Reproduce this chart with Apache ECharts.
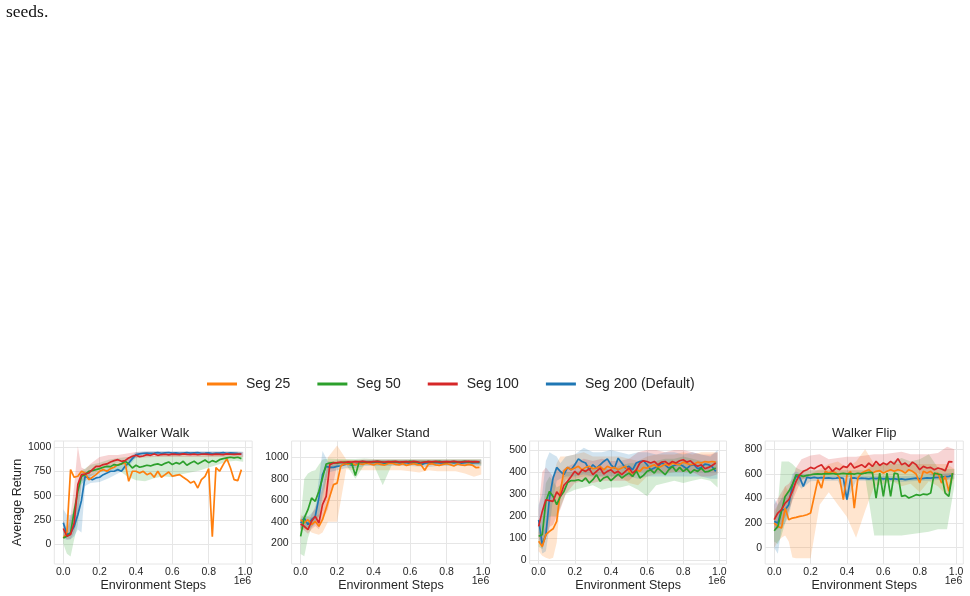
<!DOCTYPE html>
<html>
<head>
<meta charset="utf-8">
<title>Walker tasks - segment length</title>
<script src="https://cdn.jsdelivr.net/npm/echarts@6/dist/echarts.min.js"></script>
<style>
  html, body { margin: 0; padding: 0; background: #fff; }
  #chart { width: 970px; height: 596px; }
</style>
</head>
<body>
<div id="chart"></div>
<script>
// environment steps (x 1e6) for the mean curves and for the seed bands
var steps = [0, 0.02, 0.04, 0.06, 0.08, 0.10, 0.12, 0.14, 0.16, 0.18,
  0.20, 0.22, 0.24, 0.26, 0.28, 0.30, 0.32, 0.34, 0.36, 0.38,
  0.40, 0.42, 0.44, 0.46, 0.48, 0.50, 0.52, 0.54, 0.56, 0.58,
  0.60, 0.62, 0.64, 0.66, 0.68, 0.70, 0.72, 0.74, 0.76, 0.78,
  0.80, 0.82, 0.84, 0.86, 0.88, 0.90, 0.92, 0.94, 0.96, 0.98];
var bandSteps = [0, 0.02, 0.04, 0.06, 0.08, 0.10, 0.12, 0.15, 0.20, 0.25, 0.30, 0.35,
  0.40, 0.45, 0.50, 0.55, 0.60, 0.65, 0.70, 0.75, 0.80, 0.85, 0.90, 0.95, 0.99];

var seriesNames = ['Seg 25', 'Seg 50', 'Seg 100', 'Seg 200 (Default)'];
var seriesColors = ['#ff7f0e', '#2ca02c', '#d62728', '#1f77b4'];
var xTicks = [0, 0.2, 0.4, 0.6, 0.8, 1.0];

// Walker Walk
var walkSeg25 = [62, 120, 769, 690, 700, 752, 734, 665, 690, 717, 752, 769, 752, 779, 793, 821, 828, 838, 648, 752,
  752, 734, 752, 717, 734, 690, 752, 690, 717, 745, 700, 710, 717, 690, 665, 631, 648, 579, 665, 700,
  780, 75, 790, 752, 821, 883, 786, 665, 655, 769];
var walkSeg50 = [62, 79, 114, 338, 545, 700, 717, 752, 759, 769, 779, 793, 803, 800, 821, 814, 828, 855, 828, 786,
  814, 793, 803, 814, 807, 821, 828, 814, 834, 848, 821, 841, 828, 855, 814, 838, 855, 828, 848, 869,
  841, 862, 848, 872, 883, 890, 897, 890, 897, 883];
var walkSeg100 = [160, 79, 97, 217, 614, 717, 724, 734, 769, 803, 803, 821, 828, 848, 862, 872, 855, 862, 890, 907,
  917, 903, 910, 924, 917, 931, 917, 925, 928, 922, 930, 926, 924, 931, 927, 925, 929, 923, 928, 930,
  926, 924, 929, 927, 925, 931, 928, 926, 930, 929];
var walkSeg200 = [220, 97, 114, 183, 303, 450, 700, 683, 665, 683, 690, 717, 734, 752, 752, 769, 752, 803, 838, 883,
  924, 931, 938, 941, 938, 940, 944, 938, 942, 946, 940, 943, 937, 941, 945, 939, 942, 944, 938, 940,
  943, 936, 941, 939, 944, 938, 942, 940, 937, 935];
var walkSeg50Lo = [0, -100, -130, 50, 200, 620, 650, 700, 740, 760, 770, 700, 660, 650, 680, 700, 690, 720, 740, 760, 790, 820, 850, 860, 850];
var walkSeg50Hi = [150, 150, 250, 400, 650, 760, 780, 820, 840, 870, 890, 900, 900, 920, 910, 920, 930, 920, 910, 920, 925, 925, 925, 925, 915];
var walkSeg100Lo = [80, 50, 50, 120, 300, 640, 680, 700, 760, 790, 840, 850, 890, 895, 900, 900, 900, 900, 900, 900, 900, 900, 900, 900, 900];
var walkSeg100Hi = [250, 160, 300, 600, 1010, 790, 770, 830, 900, 920, 920, 935, 950, 955, 955, 955, 955, 955, 955, 955, 955, 955, 955, 955, 950];
var walkSeg200Lo = [60, 40, 50, 80, 150, 120, 600, 630, 640, 680, 730, 780, 895, 915, 920, 920, 920, 920, 920, 920, 920, 920, 920, 920, 915];
var walkSeg200Hi = [360, 300, 300, 320, 480, 720, 750, 720, 740, 790, 820, 880, 950, 958, 962, 962, 960, 960, 960, 958, 960, 960, 958, 958, 955];

// Walker Stand
var standSeg25 = [420, 389, 420, 374, 405, 358, 420, 529, 637, 746, 760, 920, 940, 935, 945, 930, 940, 935, 945, 938,
  930, 942, 935, 928, 940, 945, 935, 930, 940, 925, 935, 940, 930, 930, 880, 935, 940, 930, 925, 935,
  940, 932, 920, 938, 930, 925, 935, 928, 905, 907];
var standSeg50 = [265, 436, 513, 622, 591, 684, 808, 938, 947, 950, 945, 952, 955, 950, 945, 830, 955, 960, 952, 958,
  955, 962, 957, 950, 955, 960, 958, 952, 957, 955, 962, 958, 953, 950, 956, 960, 955, 958, 962, 956,
  953, 958, 960, 955, 958, 962, 956, 960, 958, 955];
var standSeg100 = [380, 358, 327, 405, 451, 389, 560, 637, 932, 947, 950, 955, 952, 958, 955, 960, 957, 962, 958, 955,
  960, 963, 958, 955, 960, 957, 962, 955, 958, 960, 956, 962, 958, 950, 955, 960, 958, 962, 955, 958,
  960, 957, 962, 958, 955, 960, 963, 958, 960, 958];
var standSeg200 = [389, 436, 374, 420, 451, 622, 839, 916, 907, 907, 916, 922, 932, 938, 926, 932, 945, 950, 955, 948,
  952, 957, 950, 945, 953, 948, 955, 950, 946, 952, 940, 948, 954, 930, 945, 950, 947, 953, 949, 945,
  951, 955, 948, 952, 946, 950, 954, 948, 951, 950];
var standSeg25Lo = [340, 330, 330, 300, 290, 280, 300, 400, 400, 890, 880, 880, 880, 880, 880, 880, 870, 860, 880, 870, 870, 870, 850, 820, 840];
var standSeg25Hi = [460, 450, 450, 440, 450, 470, 600, 1000, 1110, 980, 975, 975, 975, 975, 975, 975, 975, 975, 975, 975, 975, 975, 975, 975, 960];
var standSeg50Lo = [100, 80, 250, 350, 400, 450, 600, 880, 920, 930, 800, 930, 930, 740, 930, 930, 930, 930, 930, 930, 930, 930, 930, 930, 930];
var standSeg50Hi = [420, 800, 850, 870, 880, 930, 980, 990, 985, 985, 985, 990, 985, 985, 985, 985, 985, 985, 985, 985, 985, 985, 985, 985, 985];
var standSeg100Lo = [340, 320, 290, 330, 360, 330, 420, 520, 930, 935, 940, 940, 940, 940, 940, 940, 940, 935, 935, 940, 940, 940, 940, 940, 940];
var standSeg100Hi = [420, 400, 380, 470, 540, 600, 720, 960, 970, 975, 975, 980, 980, 980, 980, 980, 980, 980, 980, 980, 980, 980, 980, 980, 980];
var standSeg200Lo = [330, 350, 330, 350, 380, 450, 650, 860, 880, 900, 900, 920, 920, 920, 920, 920, 920, 915, 910, 920, 920, 920, 920, 920, 920];
var standSeg200Hi = [430, 470, 450, 480, 520, 800, 1060, 960, 950, 960, 970, 975, 975, 975, 975, 975, 975, 975, 975, 975, 975, 975, 975, 975, 975];

// Walker Run
var runSeg25 = [85, 62, 115, 130, 142, 176, 312, 405, 421, 410, 418, 426, 410, 421, 426, 415, 418, 426, 410, 426,
  418, 421, 410, 418, 426, 403, 380, 410, 403, 421, 418, 426, 433, 421, 426, 436, 430, 441, 436, 433,
  445, 439, 433, 436, 445, 441, 448, 445, 448, 445];
var runSeg50 = [108, 115, 267, 312, 289, 252, 289, 312, 352, 361, 361, 365, 358, 373, 350, 365, 388, 358, 373, 380,
  361, 376, 391, 373, 385, 395, 380, 406, 373, 385, 403, 410, 395, 418, 403, 388, 410, 426, 403, 421,
  403, 415, 395, 410, 403, 418, 400, 403, 410, 418];
var runSeg100 = [153, 221, 274, 270, 267, 310, 290, 340, 358, 380, 403, 388, 410, 403, 415, 388, 403, 418, 391, 403,
  410, 395, 403, 388, 403, 418, 395, 410, 441, 451, 448, 441, 448, 433, 445, 448, 436, 448, 441, 451,
  456, 445, 451, 436, 426, 433, 415, 421, 430, 441];
var runSeg200 = [183, 70, 115, 282, 373, 421, 403, 388, 421, 410, 433, 460, 448, 441, 410, 433, 418, 433, 448, 460,
  433, 418, 463, 441, 418, 426, 410, 441, 448, 451, 433, 410, 418, 426, 441, 433, 418, 426, 433, 436,
  426, 415, 430, 433, 415, 421, 436, 433, 424, 403];
var runSeg25Lo = [40, 20, 10, 5, 10, 80, 280, 370, 370, 380, 380, 380, 380, 380, 350, 340, 380, 390, 390, 400, 400, 400, 400, 400, 400];
var runSeg25Hi = [130, 120, 150, 250, 380, 440, 470, 470, 480, 490, 470, 470, 470, 470, 460, 450, 470, 480, 480, 480, 490, 480, 490, 490, 490];
var runSeg50Lo = [60, 50, 100, 200, 200, 200, 240, 300, 320, 330, 340, 320, 330, 330, 340, 320, 290, 340, 350, 360, 350, 360, 370, 360, 330];
var runSeg50Hi = [150, 200, 350, 380, 360, 330, 340, 400, 400, 410, 420, 420, 410, 430, 440, 440, 440, 450, 460, 460, 470, 460, 450, 440, 450];
var runSeg100Lo = [100, 50, 100, 150, 160, 200, 230, 300, 350, 360, 350, 360, 360, 360, 360, 400, 400, 400, 400, 400, 400, 400, 380, 380, 390];
var runSeg100Hi = [230, 400, 420, 400, 380, 420, 400, 420, 440, 460, 450, 460, 450, 450, 460, 490, 500, 500, 490, 500, 500, 490, 480, 480, 490];
var runSeg200Lo = [120, 30, 40, 150, 280, 360, 370, 380, 380, 390, 380, 380, 380, 380, 380, 370, 380, 380, 380, 380, 380, 380, 380, 370, 370];
var runSeg200Hi = [250, 300, 450, 490, 480, 470, 440, 470, 480, 510, 490, 490, 500, 490, 480, 490, 490, 480, 490, 490, 480, 490, 480, 470, 500];

// Walker Flip
var flipSeg25 = [200, 173, 160, 322, 228, 241, 247, 255, 260, 268, 282, 417, 553, 485, 621, 607, 621, 607, 566, 390,
  593, 621, 322, 566, 607, 621, 634, 607, 621, 626, 607, 621, 634, 621, 634, 626, 607, 634, 621, 599,
  526, 621, 607, 621, 593, 607, 526, 580, 458, 607];
var flipSeg50 = [138, 173, 295, 417, 458, 512, 593, 588, 580, 588, 593, 599, 600, 598, 602, 600, 603, 598, 600, 604,
  600, 602, 598, 605, 600, 607, 612, 610, 404, 607, 417, 607, 417, 607, 599, 417, 425, 404, 417, 431,
  425, 436, 431, 444, 607, 599, 593, 444, 417, 607];
var flipSeg100 = [228, 282, 309, 363, 390, 458, 539, 593, 621, 634, 653, 642, 661, 675, 634, 661, 621, 648, 634, 661,
  653, 688, 648, 661, 675, 653, 688, 661, 702, 669, 688, 675, 702, 680, 724, 675, 688, 661, 696, 675,
  634, 661, 648, 653, 634, 648, 640, 625, 700, 698];
var flipSeg200 = [214, 200, 309, 309, 350, 512, 580, 572, 499, 572, 566, 572, 566, 570, 565, 568, 563, 566, 570, 564,
  390, 566, 568, 562, 566, 564, 560, 566, 562, 565, 560, 563, 558, 562, 555, 560, 553, 558, 562, 566,
  560, 563, 568, 566, 570, 572, 575, 578, 580, 588];
var flipSeg25Lo = [0, 50, 80, 100, 50, -80, -85, -85, -85, 350, 450, 350, 250, 80, 300, 500, 520, 540, 500, 520, 450, 540, 500, 420, 560];
var flipSeg25Hi = [300, 350, 400, 500, 450, 550, 560, 580, 600, 640, 680, 700, 650, 700, 800, 680, 680, 680, 680, 680, 680, 680, 680, 680, 640];
var flipSeg50Lo = [50, 30, 100, 200, 300, 400, 500, 560, 570, 575, 575, 575, 575, 575, 575, 100, 100, 100, 100, 110, 120, 130, 150, 150, 500];
var flipSeg50Hi = [250, 350, 700, 700, 700, 680, 650, 630, 630, 630, 630, 630, 630, 630, 630, 680, 680, 700, 730, 700, 720, 760, 650, 640, 640];
var flipSeg100Lo = [150, 150, 200, 250, 300, 380, 450, 550, 580, 600, 600, 600, 600, 600, 600, 620, 620, 620, 620, 620, 600, 600, 560, 550, 600];
var flipSeg100Hi = [350, 400, 450, 500, 520, 560, 650, 720, 750, 760, 720, 730, 740, 740, 750, 760, 760, 770, 780, 760, 760, 760, 770, 820, 800];
var flipSeg200Lo = [0, -50, 150, 200, 250, 400, 530, 480, 540, 545, 545, 545, 380, 545, 545, 545, 540, 540, 535, 540, 545, 545, 550, 550, 560];
var flipSeg200Hi = [400, 350, 400, 420, 460, 600, 620, 600, 590, 590, 590, 590, 590, 590, 585, 585, 585, 580, 580, 585, 590, 595, 600, 605, 610];

var FONT = '"Liberation Sans", Arial, sans-serif';
var INK = '#262626';
var GRID_LINE = '#e6e6e6';

var panels = [
  { title: 'Walker Walk', left: 54.3, width: 197.9, yMin: -207, yMax: 1065, yTicks: [0, 250, 500, 750, 1000],
    lines: [walkSeg25, walkSeg50, walkSeg100, walkSeg200],
    lo: [null, walkSeg50Lo, walkSeg100Lo, walkSeg200Lo], hi: [null, walkSeg50Hi, walkSeg100Hi, walkSeg200Hi] },
  { title: 'Walker Stand', left: 291.6, width: 198.7, yMin: 7.4, yMax: 1152, yTicks: [200, 400, 600, 800, 1000],
    lines: [standSeg25, standSeg50, standSeg100, standSeg200],
    lo: [standSeg25Lo, standSeg50Lo, standSeg100Lo, standSeg200Lo], hi: [standSeg25Hi, standSeg50Hi, standSeg100Hi, standSeg200Hi] },
  { title: 'Walker Run', left: 529.7, width: 196.8, yMin: -18, yMax: 541, yTicks: [0, 100, 200, 300, 400, 500],
    lines: [runSeg25, runSeg50, runSeg100, runSeg200],
    lo: [runSeg25Lo, runSeg50Lo, runSeg100Lo, runSeg200Lo], hi: [runSeg25Hi, runSeg50Hi, runSeg100Hi, runSeg200Hi] },
  { title: 'Walker Flip', left: 765.2, width: 198.1, yMin: -132.5, yMax: 867.5, yTicks: [0, 200, 400, 600, 800],
    lines: [flipSeg25, flipSeg50, flipSeg100, flipSeg200],
    lo: [flipSeg25Lo, flipSeg50Lo, flipSeg100Lo, flipSeg200Lo], hi: [flipSeg25Hi, flipSeg50Hi, flipSeg100Hi, flipSeg200Hi] }
];

// shaded spread over seeds, drawn as one polygon through the axis scales
function bandSeries(gi, color, lo, hi) {
  return {
    type: 'custom', xAxisIndex: gi, yAxisIndex: gi, silent: true, z: 1,
    data: [[bandSteps[0], lo[0]]],
    renderItem: function (params, api) {
      var pts = [];
      for (var i = 0; i < bandSteps.length; i++) pts.push(api.coord([bandSteps[i], hi[i]]));
      for (var j = bandSteps.length - 1; j >= 0; j--) pts.push(api.coord([bandSteps[j], lo[j]]));
      return { type: 'polygon', shape: { points: pts }, style: { fill: color, opacity: 0.2 } };
    }
  };
}

var grids = [], xAxes = [], yAxes = [], titles = [], series = [], graphics = [];

panels.forEach(function (p, gi) {
  grids.push({ left: p.left, top: 441, width: p.width, height: 123, show: true,
    borderColor: GRID_LINE, borderWidth: 1, backgroundColor: '#fff', outerBoundsMode: 'none' });
  xAxes.push({
    gridIndex: gi, type: 'value', min: -0.0495, max: 1.0395,
    axisLine: { show: false }, axisTick: { show: false, customValues: xTicks },
    axisLabel: { customValues: xTicks, color: INK, fontSize: 10.5, fontFamily: FONT, margin: 3,
      formatter: function (v) { return v.toFixed(1); } },
    splitLine: { show: true, lineStyle: { color: GRID_LINE, width: 1 } },
    name: 'Environment Steps', nameLocation: 'middle', nameGap: 5,
    nameTextStyle: { color: INK, fontSize: 12.5, fontFamily: FONT }
  });
  yAxes.push({
    gridIndex: gi, type: 'value', min: p.yMin, max: p.yMax,
    axisLine: { show: false }, axisTick: { show: false, customValues: p.yTicks },
    axisLabel: { customValues: p.yTicks, color: INK, fontSize: 10.5, fontFamily: FONT, margin: 3,
      formatter: function (v) { return String(Math.round(v)); } },
    splitLine: { show: true, lineStyle: { color: GRID_LINE, width: 1 } },
    name: gi === 0 ? 'Average Return' : '', nameLocation: 'middle', nameGap: 17,
    nameTextStyle: { color: INK, fontSize: 12.5, fontFamily: FONT }
  });
  titles.push({ text: p.title, left: p.left + p.width / 2, top: 427, textAlign: 'center', padding: 0,
    textStyle: { color: INK, fontSize: 13, fontWeight: 'normal', fontFamily: FONT } });
  graphics.push({ type: 'text', x: p.left + p.width - 1, y: 581,
    style: { text: '1e6', align: 'right', verticalAlign: 'middle', fill: INK, fontSize: 10.5, fontFamily: FONT } });

  for (var k = 0; k < 4; k++) {
    if (p.lo[k]) series.push(bandSeries(gi, seriesColors[k], p.lo[k], p.hi[k]));
  }
  // blue first, red on top
  [3, 0, 1, 2].forEach(function (k) {
    series.push({
      name: seriesNames[k], type: 'line', xAxisIndex: gi, yAxisIndex: gi, z: 2,
      showSymbol: false, symbol: 'none', silent: true,
      data: steps.map(function (x, i) { return [x, p.lines[k][i]]; }),
      itemStyle: { color: seriesColors[k] },
      lineStyle: { color: seriesColors[k], width: 1.7 }
    });
  });
});

graphics.push({ type: 'text', x: 6, y: 12.5,
  style: { text: 'seeds.', verticalAlign: 'middle', fill: '#111', fontSize: 17.5, fontFamily: '"Liberation Serif", "Times New Roman", serif' } });

var chart = echarts.init(document.getElementById('chart'), null, { renderer: 'canvas' });
chart.setOption({
  animation: false,
  backgroundColor: '#fff',
  title: titles,
  legend: {
    data: seriesNames.map(function (n) { return { name: n, icon: 'rect' }; }),
    left: 207, top: 377, padding: 0,
    itemWidth: 30, itemHeight: 3, itemGap: 27,
    textStyle: { color: INK, fontSize: 14, fontFamily: FONT, padding: [0, 0, 0, 4] }
  },
  grid: grids,
  xAxis: xAxes,
  yAxis: yAxes,
  graphic: graphics,
  series: series
});
</script>
</body>
</html>
